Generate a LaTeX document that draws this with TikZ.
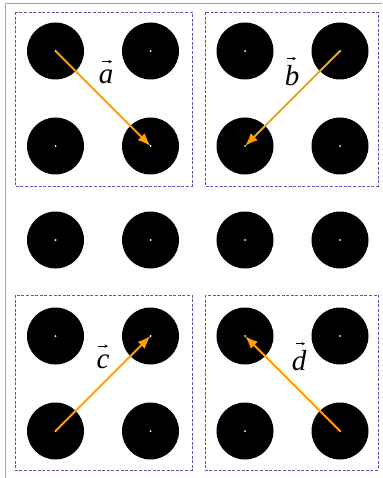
\documentclass[tikz,border=0pt]{standalone}
\usepackage{fontspec}
\setmainfont{Liberation Serif}
\usetikzlibrary{arrows.meta}
\definecolor{arrorange}{RGB}{255,160,0}
\definecolor{framegray}{RGB}{165,165,165}
\definecolor{boxblue}{RGB}{90,90,180}
\tikzset{
  ball/.style={circle,fill=black,draw=none,minimum size=57pt,inner sep=0pt},
  pip/.style={circle,fill=white,draw=none,minimum size=2pt,inner sep=0pt},
  vecarrow/.style={draw=arrorange,line width=2pt,-{Latex[length=13pt,width=10pt]}},
  accentarrow/.style={draw=black,line width=0.8pt,-{Stealth[length=3.5pt,width=3.5pt]}},
  panel/.style={draw=boxblue,line width=0.7pt,dash pattern=on 3pt off 1.6pt},
  frameline/.style={draw=framegray,line width=1.8pt},
  veclabel/.style={font=\fontsize{29}{31}\selectfont\itshape,inner sep=0pt,anchor=base}
}
\begin{document}
\begin{tikzpicture}[x=1pt,y=-1pt]
\useasboundingbox (0,0) rectangle (382,478);
\fill[white] (0,0) rectangle (382,478);
% outer frame
\coordinate (ftop) at (382,3.5);
\coordinate (fcorner) at (5.5,3.5);
\coordinate (fbot) at (5.5,478);
\draw[frameline] (ftop) -- (fcorner) -- (fbot);
% dashed panels
\draw[panel] (15,12) rectangle (192,186);
\draw[panel] (205,12) rectangle (378,186);
\draw[panel] (15,295) rectangle (192,470);
\draw[panel] (205,295) rectangle (378,470);
% balls
\foreach \c/\x in {1/55.5,2/150.5,3/245,4/340}{
  \foreach \r/\y in {1/51,2/146,3/240,4/336,5/431}{
    \node[ball] (b\r\c) at (\x,\y) {};
    \node[pip] (d\r\c) at (\x,\y) {};
  }
}
% vectors
\draw[vecarrow] (b11.center) -- (b22.center);
\draw[vecarrow] (b14.center) -- (b23.center);
\draw[vecarrow] (b51.center) -- (b42.center);
\draw[vecarrow] (b54.center) -- (b43.center);
% labels
\node[veclabel] (la) at (106,83.5) {a};
\node[veclabel] (lb) at (292,86) {b};
\node[veclabel] (lc) at (103,368) {c};
\node[veclabel] (ld) at (299,370) {d};
% vector accents
\draw[accentarrow] ([xshift=-4pt,yshift=8pt]la.north) -- ++(10pt,0);
\draw[accentarrow] ([xshift=-5pt,yshift=7pt]lb.north) -- ++(9pt,0);
\draw[accentarrow] ([xshift=-5pt,yshift=8pt]lc.north) -- ++(10pt,0);
\draw[accentarrow] ([xshift=-3pt,yshift=6pt]ld.north) -- ++(9pt,0);
\end{tikzpicture}
\end{document}
